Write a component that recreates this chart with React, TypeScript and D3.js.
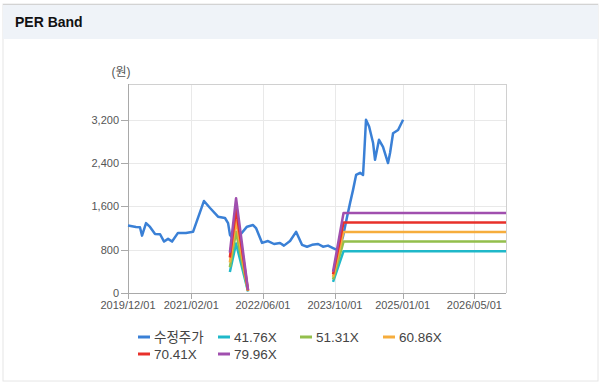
import React from "react";
import * as d3 from "d3";

const priceDates = [
  "2019-12-01","2020-01-24","2020-02-20","2020-03-05","2020-04-01","2020-04-28","2020-06-01","2020-07-05",
  "2020-08-01","2020-08-28","2020-09-24","2020-11-03","2020-12-27","2021-02-13","2021-04-28","2021-06-08",
  "2021-08-01","2021-09-17","2021-10-08","2021-10-21","2021-11-10","2021-12-01","2021-12-28","2022-02-13",
  "2022-03-26","2022-04-15","2022-05-26","2022-07-05","2022-08-15","2022-09-24","2022-10-21","2022-12-01",
  "2023-01-11","2023-02-20","2023-03-26","2023-04-29","2023-06-09","2023-07-12","2023-08-15","2023-09-18",
  "2023-10-15","2023-11-04","2023-11-24","2023-12-22","2024-01-11","2024-01-31","2024-02-21","2024-03-19",
  "2024-04-08","2024-04-15","2024-04-28","2024-05-19","2024-06-15","2024-06-28","2024-07-25","2024-08-21",
  "2024-09-24","2024-10-08","2024-10-28","2024-12-01","2025-01-04",
];
const priceValues = [
  1245,1220,1215,1060,1290,1220,1090,1085,
  950,1000,950,1110,1110,1130,1700,1570,
  1410,1385,1290,1070,1000,1130,1070,1225,
  1255,1200,925,960,905,925,875,960,
  1130,890,855,890,905,855,875,830,
  795,855,1040,1410,1660,1900,2180,2220,
  2180,2520,3200,3075,2770,2460,2830,2700,
  2400,2590,2950,3010,3200,
];

const bandDates = ["2021-10-20","2021-12-01","2022-02-20",null,"2023-09-18","2023-11-28","2026-12-01"];
const band4176 = [388, 915, 29, null, 205, 773, 773];
const band5131 = [477, 1124, 36, null, 251, 949, 949];
const band6086 = [566, 1333, 43, null, 298, 1126, 1126];
const band7041 = [655, 1542, 49, null, 345, 1303, 1303];
const band7996 = [744, 1751, 56, null, 392, 1479, 1479];

const seriesNames = ["수정주가", "41.76X", "51.31X", "60.86X", "70.41X", "79.96X"];
const seriesColors = ["#3a80d6", "#1fb8c9", "#93bf4c", "#f6ad3c", "#e8302a", "#a04fae"];

const yTicks = [0, 800, 1600, 2400, 3200];
const xTickLabels = ["2019/12/01", "2021/02/01", "2022/06/01", "2023/10/01", "2025/01/01", "2026/05/01"];

const W = 611, H = 386;
const L = 128, R = 506, T = 84, B = 293;
const FONT = "'Liberation Sans', Arial, 'Noto Sans CJK KR', sans-serif";

const parse = d3.timeParse("%Y-%m-%d");
const parseSlash = d3.timeParse("%Y/%m/%d");

export default function App() {
  const x = d3.scaleTime().domain([parse("2019-12-01")!, parse("2026-12-01")!]).range([L, R]);
  const y = d3.scaleLinear().domain([0, 3860]).range([B, T]);

  const priceData = priceDates.map((d, i) => ({ date: parse(d)!, v: priceValues[i] }));
  const lineGen = d3
    .line<{ date: Date | null; v: number | null }>()
    .defined((d) => d.date != null && d.v != null)
    .x((d) => x(d.date as Date))
    .y((d) => y(d.v as number));

  const bands = [band4176, band5131, band6086, band7041, band7996].map((arr) =>
    bandDates.map((d, i) => ({ date: d ? parse(d) : null, v: arr[i] }))
  );

  const xTicks = xTickLabels.map((t) => parseSlash(t)!);

  const legendPos = [
    [138, 337], [218, 337], [300, 337], [383, 337],
    [138, 354], [218, 354],
  ];

  return (
    <svg width={W} height={H} style={{ position: "absolute", left: 0, top: 0, background: "#fff" }}>
      <rect x={3} y={4} width={595} height={377} fill="#fff" stroke="#e6e6e6" />
      <rect x={3} y={4} width={595} height={35} fill="#eff3f8" />
      <line x1={3} x2={598} y1={4.5} y2={4.5} stroke="#d3d3d3" />
      <text x={15} y={27} fontFamily={FONT} fontWeight="bold" fontSize={14} fill="#111">PER Band</text>

      {/* grid */}
      {yTicks.map((t) => (
        <line key={"gy" + t} x1={L} x2={R} y1={Math.round(y(t)) + 0.5} y2={Math.round(y(t)) + 0.5} stroke="#e9e9e9" />
      ))}
      {xTicks.map((t, i) => (
        <line key={"gx" + i} x1={Math.round(x(t)) + 0.5} x2={Math.round(x(t)) + 0.5} y1={T} y2={B} stroke="#e9e9e9" />
      ))}
      {/* frame */}
      <line x1={L} x2={R} y1={T + 0.5} y2={T + 0.5} stroke="#d0d0d0" />
      <line x1={R + 0.5} x2={R + 0.5} y1={T} y2={B} stroke="#d0d0d0" />
      <line x1={L + 0.5} x2={L + 0.5} y1={T} y2={B} stroke="#a9a9a9" />
      <line x1={L} x2={R} y1={B + 0.5} y2={B + 0.5} stroke="#a9a9a9" />

      {/* y ticks */}
      {yTicks.map((t) => (
        <g key={"yt" + t}>
          <line x1={L - 7} x2={L} y1={Math.round(y(t)) + 0.5} y2={Math.round(y(t)) + 0.5} stroke="#a9a9a9" />
          <text x={L - 9} y={y(t) + 4} textAnchor="end" fontFamily={FONT} fontSize={11} fill="#555">
            {d3.format(",")(t)}
          </text>
        </g>
      ))}
      <text x={121} y={76} textAnchor="middle" fontFamily={FONT} fontSize={12} fill="#555">(원)</text>

      {/* x ticks */}
      {xTicks.map((t, i) => (
        <g key={"xt" + i}>
          <line x1={Math.round(x(t)) + 0.5} x2={Math.round(x(t)) + 0.5} y1={B} y2={B + 6} stroke="#a9a9a9" />
          <text x={x(t)} y={309} textAnchor="middle" fontFamily={FONT} fontSize={11} fill="#555">
            {xTickLabels[i]}
          </text>
        </g>
      ))}

      {/* series */}
      <path d={lineGen(priceData) || ""} fill="none" stroke={seriesColors[0]} strokeWidth={2.5} strokeLinejoin="round" />
      {bands.map((b, i) => (
        <path key={"b" + i} d={lineGen(b) || ""} fill="none" stroke={seriesColors[i + 1]} strokeWidth={2.5} strokeLinejoin="round" />
      ))}

      {/* legend */}
      {seriesNames.map((n, i) => (
        <g key={"lg" + i}>
          <line x1={legendPos[i][0]} x2={legendPos[i][0] + 12} y1={legendPos[i][1]} y2={legendPos[i][1]} stroke={seriesColors[i]} strokeWidth={3} />
          <text x={legendPos[i][0] + 16} y={legendPos[i][1] + 5} fontFamily={FONT} fontSize={13.5} fill="#444">{n}</text>
        </g>
      ))}
    </svg>
  );
}
